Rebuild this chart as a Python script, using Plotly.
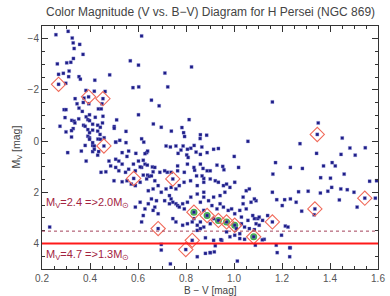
import plotly.graph_objects as go

# B-V colour index and absolute magnitude M_V of the cluster stars
bv = [0.258,0.309,0.326,0.330,0.357,0.334,0.371,0.331,0.303,0.264,0.320,0.313,0.289,0.269,0.354,0.360,0.311,0.420,0.482,0.299,
      0.269,0.615,0.568,0.602,0.712,0.823,0.724,0.579,0.603,0.383,0.418,0.463,0.394,0.454,0.338,0.375,0.395,0.346,0.372,0.450,
      0.656,0.688,0.354,0.292,0.300,0.435,0.447,0.368,0.602,0.296,0.353,0.384,0.391,0.422,0.454,0.398,0.324,0.334,0.511,0.813,
      0.373,0.411,0.432,0.380,0.275,0.330,0.323,0.300,0.443,0.411,0.501,0.501,0.550,0.664,0.697,0.739,0.783,0.790,0.794,0.860,
      0.859,0.886,0.391,0.398,0.323,0.433,0.443,0.459,0.524,0.550,0.615,0.624,0.458,0.380,0.411,0.418,0.717,0.735,0.758,0.788,
      0.834,0.866,1.160,1.351,1.347,1.451,1.058,1.275,0.935,1.483,1.547,
      0.307,0.364,0.432,0.384,0.479,0.507,0.520,0.486,0.534,0.561,0.581,0.602,0.615,0.629,0.589,0.548,0.520,0.507,0.466,0.446,
      0.636,0.561,0.534,0.591,0.554,0.411,0.436,0.507,0.767,0.779,0.820,0.842,0.860,0.640,0.629,0.803,0.809,0.622,0.609,0.639,
      0.660,0.663,0.622,0.640,0.647,0.722,0.836,0.871,0.888,0.901,0.929,0.953,0.958,1.019,0.844,0.874,0.888,0.915,0.806,1.001,
      1.173,1.344,1.446,1.505,1.162,1.235,1.285,1.373,1.409,1.422,1.459,1.361,1.402,1.565,1.594,1.589,1.545,1.513,1.500,1.439,
      1.472,1.445,1.407,1.391,1.360,1.309,1.269,1.259,1.337,1.334,1.282,1.235,1.211,1.178,1.201,1.160,1.160,1.214,1.225,1.198,
      1.235,1.180,1.232,1.126,1.089,1.082,1.085,1.003,0.969,0.935,0.888,0.833,0.983,1.024,0.969,1.024,1.003,1.010,1.031,1.044,
      1.058,1.064,1.085,1.099,1.119,1.140,1.105,1.092,0.915,0.949,0.922,0.901,0.918,1.014,0.867,0.901,0.922,0.935,0.956,0.969,
      0.983,1.003,0.962,0.942,0.915,0.894,0.874,0.860,0.908,0.929,0.956,0.976,0.990,1.003,1.024,1.038,1.051,1.071,1.092,1.078,
      1.031,1.105,1.051,1.038,1.064,1.085,0.942,0.874,
      0.582,0.500,0.534,0.554,0.572,0.589,0.609,0.636,0.656,0.670,0.745,0.711,0.691,0.738,0.765,0.793,0.765,0.806,0.833,0.860,
      0.670,0.684,0.663,0.643,0.697,0.717,0.738,0.758,0.772,0.792,0.819,0.847,0.874,0.731,0.738,0.745,0.758,0.765,0.772,0.731,
      0.711,0.786,0.793,0.656,0.677,0.643,0.670,0.629,0.663,0.684,0.622,0.615,0.589,0.609,0.232,0.684,0.833,0.860,0.847,0.874,
      0.901,0.915,0.826,0.799,0.697,0.697,0.806,0.820,0.847,0.874,0.735,0.847,0.881,0.758,0.745,0.786,0.806,0.826,0.847,0.860,
      0.398,0.452,0.337,0.391,0.398,0.432,0.442,0.398,0.411,0.418,0.507,0.881,0.901,0.945,1.044,1.118,1.176,1.232]
mv = [-4.16,-4.29,-4.03,-3.84,-3.78,-3.62,-3.39,-3.23,-3.06,-3.02,-3.08,-2.74,-2.65,-2.61,-2.52,-2.42,-2.52,-2.38,-2.59,-2.26,
      -2.22,-4.11,-3.14,-2.97,-2.66,-2.90,-2.12,-2.09,-2.12,-1.98,-1.95,-1.94,-1.73,-1.66,-1.66,-1.68,-1.46,-1.46,-1.51,-1.46,
      -1.60,-1.38,-1.29,-1.23,-1.23,-1.26,-1.26,-1.16,-1.03,-0.92,-0.87,-0.95,-0.84,-0.93,-0.97,-0.80,-0.81,-0.78,-0.83,-0.84,
      -0.62,-0.66,-0.62,-0.58,-0.58,-0.49,-0.41,-0.36,-0.54,-0.43,-0.57,-0.50,-0.38,-0.67,-0.54,-0.39,-0.53,-0.33,-0.18,-0.25,
      -0.10,-0.23,-0.19,-0.13,-0.16,-0.08,-0.07,-0.13,-0.03,0.06,-0.09,0.04,0.19,0.17,0.17,0.19,0.19,0.23,0.19,0.19,
      0.17,0.23,-1.53,-0.71,-0.26,-0.12,0.01,0.10,0.29,0.27,0.26,
      0.45,0.39,0.55,0.78,0.78,0.71,0.78,0.97,0.90,1.10,0.90,0.78,1.03,0.90,1.16,1.22,1.16,1.03,1.20,1.22,
      0.45,0.39,0.45,0.48,0.60,0.41,0.41,0.04,0.48,0.35,0.28,0.43,0.52,0.39,0.49,0.54,0.64,0.75,1.01,0.94,
      1.01,1.20,1.33,1.33,1.38,1.22,1.14,1.07,1.16,1.16,0.94,0.99,1.12,1.03,1.36,1.46,0.45,0.32,0.32,0.60,
      0.84,0.48,0.52,0.55,1.29,1.03,1.07,0.97,0.84,0.97,1.29,1.43,1.45,1.57,1.55,2.23,2.23,2.58,2.00,2.30,
      1.90,1.87,1.81,1.96,2.03,1.96,1.98,2.39,2.65,2.88,2.74,2.26,2.29,2.29,2.52,2.00,3.16,3.32,3.36,3.68,
      4.17,4.36,4.52,3.84,4.07,3.74,3.46,3.29,3.16,3.10,2.91,2.78,3.74,3.81,3.55,3.62,3.68,3.42,3.23,3.36,
      3.10,3.42,3.03,3.03,3.10,2.91,3.29,3.23,3.88,3.88,4.09,4.36,4.33,4.69,1.36,1.48,1.55,1.61,1.74,1.68,
      1.81,1.61,2.00,2.13,2.19,2.33,2.19,2.39,2.52,2.65,2.58,2.71,2.65,2.84,2.71,2.45,2.65,2.39,2.33,2.91,
      2.97,2.97,1.94,2.19,1.87,2.26,2.45,2.71,
      1.46,1.55,1.59,1.55,1.68,1.74,1.61,1.48,1.36,1.03,1.48,1.16,1.22,1.22,1.16,1.22,0.97,0.90,1.03,0.90,
      1.55,1.74,1.87,1.94,2.00,1.87,1.81,1.87,1.74,1.61,1.55,1.74,1.61,2.13,2.26,2.39,2.45,2.52,2.58,2.45,
      2.33,2.45,2.65,2.26,2.33,2.45,2.58,2.65,2.71,2.84,2.91,3.16,2.58,2.39,3.36,3.42,3.03,3.16,3.29,3.36,
      3.23,3.03,3.88,4.24,4.04,4.26,2.39,2.19,2.07,2.00,4.80,4.52,4.39,3.16,3.03,3.29,3.23,3.16,3.49,3.42,
      -1.03,-0.71,-0.71,-0.45,-0.33,-0.39,-0.26,-0.07,0.06,0.32,0.04,3.78,4.36,3.85,3.84,3.86,4.07,4.17]

# stars marked with red open diamonds
dia_bv = [0.269,0.394,0.454,0.458,1.347,0.582,0.745,0.684,0.833,0.888,0.935,0.969,1.003,1.082,1.160,1.337,1.545,0.826,0.799]
dia_mv = [-2.22,-1.73,-1.66,0.19,-0.26,1.46,1.48,3.42,2.78,2.91,3.10,3.16,3.29,3.74,3.16,2.65,2.23,3.88,4.24]

# stars highlighted in green
grn_bv = [0.833,0.888,0.935,0.969,1.003,1.082]
grn_mv = [2.78,2.91,3.10,3.16,3.29,3.74]

# reference magnitude lines
line_dotted = 3.52
line_solid = 4.0

x_ticks = [0.2,0.4,0.6,0.8,1.0,1.2,1.4,1.6]
x_ticklabels = ["0.2","0.4","0.6","0.8","1.0","1.2","1.4","1.6"]
y_ticks = [-4,-2,0,2,4]
y_ticklabels = ["\u22124","\u22122","0","2","4"]

label_color = "#a3243f"
FONT = "Liberation Sans"

fig = go.Figure()
fig.add_trace(go.Scatter(x=grn_bv, y=grn_mv, mode="markers",
                         marker=dict(symbol="circle", size=7, color="#46b04a"),
                         hoverinfo="skip", showlegend=False))
fig.add_trace(go.Scatter(x=bv, y=mv, mode="markers",
                         marker=dict(symbol="square", size=3.2, color="#1c1c86",
                                     line=dict(color="rgba(150,150,220,0.7)", width=0.5)),
                         showlegend=False))
fig.add_trace(go.Scatter(x=dia_bv, y=dia_mv, mode="markers",
                         marker=dict(symbol="diamond-open", size=11, color="#f06a5a",
                                     line=dict(width=1.1)),
                         showlegend=False))

fig.add_hline(y=line_dotted, line=dict(color="#a3415a", width=1, dash="dot"))
fig.add_hline(y=line_solid, line=dict(color="#ff1a1a", width=2))

fig.add_annotation(x=0.21, y=2.42, xref="x", yref="y", xanchor="left", yanchor="middle",
                   text="M<sub>V</sub>=2.4 =>2.0M<sub>\u2299</sub>", showarrow=False,
                   font=dict(family=FONT, size=11, color=label_color))
fig.add_annotation(x=0.21, y=4.45, xref="x", yref="y", xanchor="left", yanchor="middle",
                   text="M<sub>V</sub>=4.7 =>1.3M<sub>\u2299</sub>", showarrow=False,
                   font=dict(family=FONT, size=11, color=label_color))

fig.add_annotation(x=0.5, y=1, xref="paper", yref="paper", yanchor="bottom", yshift=5,
                   text="Color Magnitude (V vs. B\u2212V) Diagram for H Persei (NGC 869)",
                   showarrow=False, font=dict(family=FONT, size=12, color="#444444"))
fig.add_annotation(x=0.5, y=0, xref="paper", yref="paper", yanchor="top", yshift=-14,
                   text="B \u2212 V [mag]", showarrow=False,
                   font=dict(family=FONT, size=10, color="#444444"))
fig.add_annotation(x=0, y=0.5, xref="paper", yref="paper", xanchor="right", xshift=-17,
                   text="M<sub>V</sub> [mag]", textangle=-90, showarrow=False,
                   font=dict(family=FONT, size=10.5, color="#444444"))

axis_common = dict(showgrid=False, zeroline=False, showline=True, linecolor="#333333",
                   linewidth=1, mirror="allticks", ticks="inside", tickcolor="#333333",
                   ticklen=6, tickfont=dict(family=FONT, size=10, color="#555555"))
fig.update_xaxes(range=[0.2, 1.6], tickvals=x_ticks, ticktext=x_ticklabels,
                 ticklabeloverflow="allow",
                 minor=dict(dtick=0.05, ticks="inside", ticklen=3, tickcolor="#333333"),
                 **axis_common)
fig.update_yaxes(range=[5, -4.5], tickvals=y_ticks, ticktext=y_ticklabels,
                 minor=dict(dtick=0.5, ticks="inside", ticklen=3, tickcolor="#333333"),
                 **axis_common)

fig.update_layout(width=390, height=296, margin=dict(l=42, r=5, t=26, b=27),
                  paper_bgcolor="white", plot_bgcolor="white")
fig.write_html("out.html", config={"displayModeBar": False},
               post_script="document.body.style.margin='0';")
